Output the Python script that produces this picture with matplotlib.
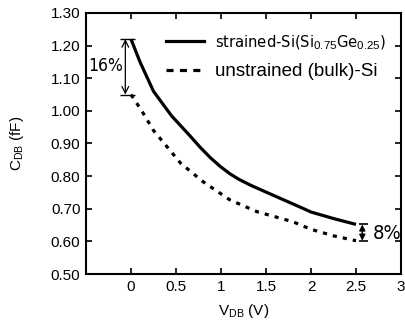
import matplotlib
matplotlib.use("Agg")
import matplotlib.pyplot as plt
from matplotlib.lines import Line2D
import numpy as np

# bias voltage and drain-body capacitance
v_strained = [0.0, 0.1, 0.25, 0.45, 0.65, 0.77, 0.88, 0.99, 1.1, 1.2, 1.33, 1.55, 1.88, 2.0, 2.25, 2.5]
c_strained = [1.22, 1.15, 1.06, 0.985, 0.925, 0.888, 0.857, 0.83, 0.807, 0.79, 0.772, 0.745, 0.705, 0.69, 0.67, 0.652]

v_bulk = [0.0, 0.12, 0.25, 0.4, 0.55, 0.8, 1.1, 1.4, 1.8, 2.0, 2.25, 2.5]
c_bulk = [1.05, 1.0, 0.94, 0.89, 0.84, 0.783, 0.727, 0.691, 0.66, 0.637, 0.617, 0.602]

x_ticks = [0, 0.5, 1, 1.5, 2, 2.5, 3]
x_ticklabels = ["0", "0.5", "1", "1.5", "2", "2.5", "3"]
y_ticks = [0.5, 0.6, 0.7, 0.8, 0.9, 1.0, 1.1, 1.2, 1.3]

labels = ["strained-Si(Si$_{0.75}$Ge$_{0.25}$)", "unstrained (bulk)-Si"]

plt.rcParams["font.family"] = ["Liberation Sans", "DejaVu Sans"]
plt.rcParams["mathtext.fontset"] = "custom"
plt.rcParams["mathtext.rm"] = "Liberation Sans"
plt.rcParams["mathtext.it"] = "Liberation Sans"
narrow = ["DejaVu Sans"]

fig = plt.figure(figsize=(4.06, 3.24), dpi=100)
ax = fig.add_axes([0.2118, 0.1543, 0.7759, 0.8056])

ax.plot(v_strained, c_strained, color="black", lw=2.3, solid_capstyle="butt")
ax.plot(v_bulk, c_bulk, color="black", lw=2.3, linestyle=(0, (1.3, 1.9)), dash_capstyle="butt")

ax.set_xlim(-0.5, 3)
ax.set_ylim(0.5, 1.3)
ax.set_xticks(x_ticks)
ax.set_xticklabels(x_ticklabels)
ax.set_yticks(y_ticks)
ax.set_yticklabels(["%.2f" % y for y in y_ticks])
ax.tick_params(direction="in", length=4, width=1.2, labelsize=11, top=True, right=True, pad=4)
for s in ax.spines.values():
    s.set_linewidth(1.5)

ax.set_xlabel("V$_{\\mathrm{DB}}$ (V)", fontsize=11, labelpad=6)
ax.set_ylabel("C$_{\\mathrm{DB}}$ (fF)", fontsize=11, labelpad=18)

# 16 % gap at zero bias
c0_s, c0_b = c_strained[0], c_bulk[0]
ax.hlines([c0_s, c0_b], -0.12, 0.05, color="black", lw=1.0)
ax.annotate("", xy=(-0.063, c0_b), xytext=(-0.063, c0_s),
            arrowprops=dict(arrowstyle="<->", color="black", lw=0.9, shrinkA=0, shrinkB=0,
                            mutation_scale=12))
ax.text(-0.285, 1.138, "16%", family=narrow, stretch="condensed", fontsize=12.5,
        ha="center", va="center")

# 8 % gap at 2.5 V
c1_s, c1_b = c_strained[-1], c_bulk[-1]
ax.hlines([c1_s, c1_b], 2.53, 2.63, color="black", lw=1.2)
ax.annotate("", xy=(2.57, c1_b), xytext=(2.57, c1_s),
            arrowprops=dict(arrowstyle="<|-|>", color="black", lw=1.0, shrinkA=0, shrinkB=0,
                            mutation_scale=9))
ax.text(2.69, 0.623, "8%", family=narrow, stretch="condensed", fontsize=14.5,
        ha="left", va="center")

handles = [Line2D([], [], color="black", lw=2.3),
           Line2D([], [], color="black", lw=2.3, linestyle=(0, (2.2, 2.0)))]
leg = ax.legend(handles, labels, loc="upper left", bbox_to_anchor=(0.21, 0.975), frameon=False,
                fontsize=13.5, handlelength=2.0, handletextpad=0.6, labelspacing=0.6,
                borderaxespad=0.35)
leg.get_texts()[0].set_family(narrow)
leg.get_texts()[0].set_stretch("condensed")
leg.get_texts()[0].set_fontsize(11.8)

fig.savefig("out.png", dpi=100)
